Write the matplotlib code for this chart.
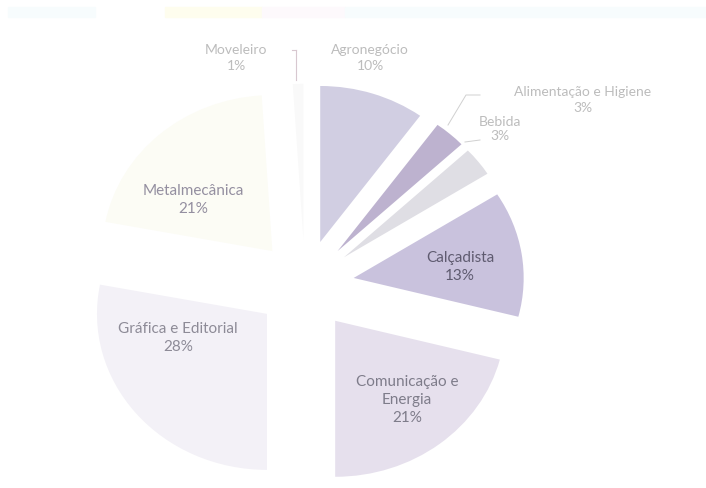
import matplotlib
matplotlib.use("Agg")
import matplotlib.pyplot as plt
from matplotlib.patches import Rectangle

# sector shares (%)
sectors = ["Agronegócio", "Alimentação e Higiene", "Bebida", "Calçadista",
           "Comunicação e\nEnergia", "Gráfica e Editorial", "Metalmecânica", "Moveleiro"]
shares = [10, 3, 3, 13, 21, 28, 21, 1]
colors = ["#d1cee2", "#bdb2cf", "#dfdee4", "#c9c2dd",
          "#e6e0ed", "#f3f1f7", "#fcfcf5", "#f9f9f9"]

W, H = 706, 488


def px(x, y):
    # pixel position -> figure fraction
    return x / W, 1 - y / H


plt.rcParams['font.family'] = ['Lato', 'DejaVu Sans']

fig = plt.figure(figsize=(W / 100, H / 100), dpi=100)
fig.patch.set_facecolor("white")

# faded header band
for x0, x1, c in [(8, 95, "#f7fcfd"), (165, 262, "#fefdee"), (262, 345, "#fdf9fc"), (345, 706, "#f7fcfd")]:
    fig.patches.append(Rectangle(px(x0, 17), (x1 - x0) / W, 10 / H,
                                 transform=fig.transFigure, color=c, zorder=0))

ax = fig.add_axes([0, 0, 1, 1])
ax.pie(shares, colors=colors, startangle=90, counterclock=False,
       explode=[0.29] * len(shares), radius=1,
       wedgeprops=dict(linewidth=0))
ax.set_aspect('auto')
ax.set_xlim(-1.794, 2.359)
ax.set_ylim(-1.301, 1.827)
ax.axis('off')

labels = [f"{name}\n{v}%" for name, v in zip(sectors, shares)]

# inner labels
inner = {3: (460, 267, "#5f5b70"), 4: (407, 400, "#7e7c8a"),
         5: (178, 338, "#8d8b97"), 6: (193, 200, "#948fa0")}
for i, (x, y, c) in inner.items():
    fig.text(*px(x, y), labels[i], ha="center", va="center", fontsize=11,
             color=c, linespacing=1.35)

# outer labels
outer_col = "#bcbcbc"
fig.text(*px(236, 58), labels[7], ha="center", va="center", fontsize=10,
         color=outer_col, linespacing=1.3)
fig.text(*px(370, 58), labels[0], ha="center", va="center", fontsize=10,
         color=outer_col, linespacing=1.3)
fig.text(*px(583, 100), labels[1], ha="center", va="center", fontsize=10,
         color=outer_col, linespacing=1.3)
fig.text(*px(500, 129), labels[2], ha="center", va="center", fontsize=10,
         color=outer_col, linespacing=1.3)

# leader lines
lc = "#d0d0d0"
fig.add_artist(plt.Line2D([296 / W, 296 / W], [1 - 50 / H, 1 - 80 / H], color="#d8c8d0", lw=0.8))
fig.add_artist(plt.Line2D([292 / W, 296 / W], [1 - 50 / H, 1 - 50 / H], color="#d8c8d0", lw=0.8))
fig.add_artist(plt.Line2D([448 / W, 466 / W, 480 / W], [1 - 125 / H, 1 - 95 / H, 1 - 95 / H], color=lc, lw=0.7))
fig.add_artist(plt.Line2D([465 / W, 480 / W], [1 - 142 / H, 1 - 140 / H], color=lc, lw=0.7))

fig.savefig("out.png", dpi=100)
